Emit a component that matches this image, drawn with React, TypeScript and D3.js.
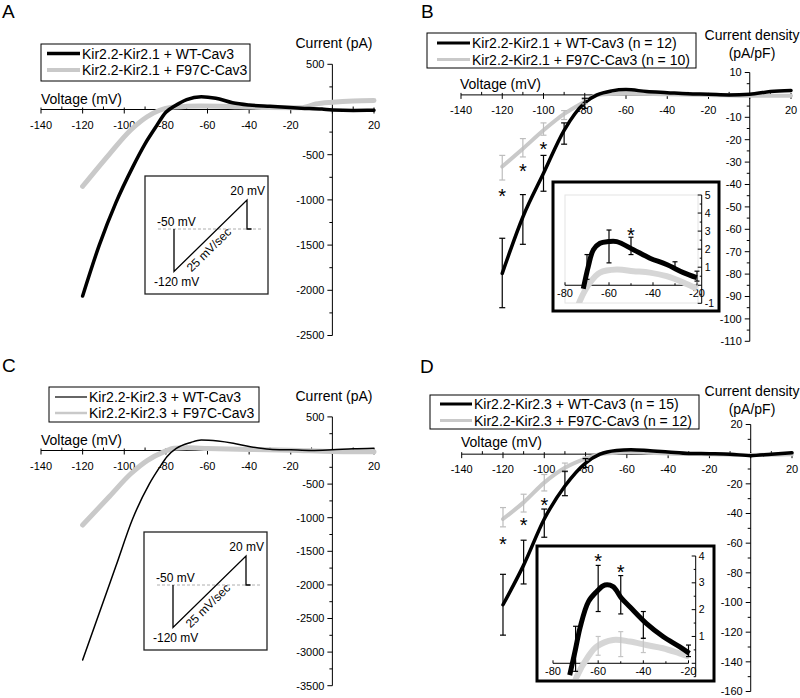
import React, { useEffect, useRef } from "react";
import * as d3 from "d3";

const FONT = "'Liberation Sans', Arial, Helvetica, sans-serif";
type Pt = [number, number];
const zip = (v: number[], i: number[]): Pt[] => v.map((d, k) => [d, i[k]]);

// x ticks shared by the four I-V plots (0 is left out, the y axis sits there)
const voltTicks = [-140, -120, -100, -80, -60, -40, -20, 20];
const insetTicks = [-80, -60, -40, -20];

// ---------- A : Kir2.2-Kir2.1 current (pA)
const aLegend = ["Kir2.2-Kir2.1 + WT-Cav3", "Kir2.2-Kir2.1 + F97C-Cav3"];
const aWtV = [-120, -112, -104, -96, -90, -85, -80, -76, -70, -63, -56, -48, -40, -30, -15, -5, 0, 10, 20];
const aWtI = [-2063, -1500, -1030, -640, -380, -200, -30, 35, 110, 142, 125, 75, 50, 35, 15, 5, -5, -10, -8];
const aMutV = [-120, -107, -97, -89, -83, -77, -70, -63, -45, -31, -15, -8, 0, 10, 20];
const aMutI = [-850, -490, -230, -80, -8, 25, 35, 38, 30, 22, 20, 60, 80, 95, 100];

// ---------- B : Kir2.2-Kir2.1 current density (pA/pF)
const bLegend = ["Kir2.2-Kir2.1 + WT-Cav3 (n = 12)", "Kir2.2-Kir2.1 + F97C-Cav3 (n = 10)"];
const bWtV = [-120, -110, -100, -90, -80, -74, -67, -60, -50, -40, -30, -20, -10, 0, 10, 20];
const bWtI = [-79.7, -54.5, -35, -15.8, -3.5, 0, 1.8, 2.4, 1.5, 1, 0.5, 0.3, 0, 0.3, 1.5, 2];
const bMutV = [-120, -110, -100, -90, -80, -74, -65, -60, -40, -20, 0, 20];
const bMutI = [-32, -24, -15.8, -8.5, -3, 0, 0.5, 0.6, 0.3, 0, -0.4, -0.4];
const bErrV = [-120, -110, -100, -90, -80];
const bWtHi = [-64, -44.5, -27, -12.5, -1.5];
const bWtLo = [-95, -66.7, -43, -22, -6];
const bMutHi = [-27, -19.5, -12.5, -7, -2];
const bMutLo = [-38, -27.7, -18, -11, -4];
const bStarV = [-120, -110, -100];
const bStarI = [-43.2, -32, -22.4];
// B inset (zoom on -80..-20 mV)
const bInWtV = [-71.7, -69.4, -67.1, -64.1, -60.3, -56.5, -48.9, -41.4, -33.8, -26.2, -20.1];
const bInWtI = [-0.2, 1.05, 1.97, 2.33, 2.42, 2.42, 1.97, 1.5, 1.15, 0.7, 0.42];
const bInMutV = [-75, -73.2, -68.6, -64.1, -56.5, -48.9, -41.4, -33.8, -26.2, -20];
const bInMutI = [-1.5, -0.86, 0.15, 0.7, 0.87, 0.78, 0.7, 0.5, 0.15, -0.2];
const bInErrV = [-70, -60, -50, -30, -20];
const bInErrHi = [1.7, 3.06, 2.66, 1.3, 0.78];
const bInErrLo = [0.33, 1.24, 1.7, 0.9, 0.23];
const bInStarV = [-50];
const bInStarI = [3.0];
const bInYLabels = [5, 4, 3, 2, 1, -1];

// ---------- C : Kir2.2-Kir2.3 current (pA)
const cLegend = ["Kir2.2-Kir2.3 + WT-Cav3", "Kir2.2-Kir2.3 + F97C-Cav3"];
const cWtV = [-120, -112, -104, -96, -88, -83, -79.5, -75, -68, -63, -55, -47.6, -39.4, -30, -20, -10, 0, 10, 20];
const cWtI = [-3118, -2420, -1720, -1020, -500, -250, -92, 30, 120, 156, 140, 107, 57, 20, 10, 0, 10, 25, 33];
const cMutV = [-120, -107, -97, -89, -81, -76, -70, -60, -40, -20, 0, 10, 20];
const cMutI = [-1109, -680, -350, -150, -20, 33, 40, 30, 15, 5, -15, -18, -18];

// ---------- D : Kir2.2-Kir2.3 current density (pA/pF)
const dLegend = ["Kir2.2-Kir2.3 + WT-Cav3 (n = 15)", "Kir2.2-Kir2.3 + F97C-Cav3 (n = 12)"];
const dWtV = [-120, -110, -100, -90, -80, -73, -65, -58, -50, -40, -30, -20, -10, 0, 10, 20];
const dWtI = [-101.5, -74.8, -43.7, -21.5, -6, 0, 2.5, 3, 2.5, 1.5, 0.5, 0.3, 0, -1, 0, 1];
const dMutV = [-120, -110, -100, -90, -80, -73, -65, -58, -50, -40, -20, 0, 20];
const dMutI = [-43.7, -32.5, -19.2, -9.2, -3, 0, 1, 1.5, 1, 0.5, 0, -0.5, 0];
const dErrV = [-120, -110, -100, -90, -80];
const dWtHi = [-81, -58, -37, -11.5, -3];
const dWtLo = [-122, -87.5, -56, -28, -9];
const dMutHi = [-36, -27, -13.7, -6, -2];
const dMutLo = [-49, -39, -24.8, -12, -4];
const dStarV = [-120, -110, -100];
const dStarI = [-58.1, -44.8, -31.5];
// D inset
const dInWtV = [-72.6, -70.1, -67.9, -64.3, -60.7, -57, -53.4, -49.7, -46, -38.7, -31.3, -24, -19.6];
const dInWtI = [-0.44, 0.5, 1.37, 2.3, 2.67, 2.92, 2.86, 2.43, 2.11, 1.49, 1.0, 0.62, 0.37];
const dInMutV = [-71, -69.5, -64.4, -60.7, -53.4, -46, -38.7, -31.3, -24, -19.6];
const dInMutI = [-0.9, -0.5, 0.25, 0.62, 0.87, 0.81, 0.68, 0.56, 0.37, 0.25];
const dInErrV = [-70, -60, -50, -40, -20];
const dInErrHi = [1.38, 3.65, 3.27, 1.93, 0.68];
const dInErrLo = [-0.3, 1.93, 1.84, 0.93, 0.25];
const dInMutErrV = [-60, -50, -40];
const dInMutErrHi = [1.0, 1.18, 0.95];
const dInMutErrLo = [0.3, 0.25, 0.4];
const dInStarV = [-60, -50];
const dInStarI = [3.98, 3.54];
const dInYLabels = [4, 3, 2, 1];

// voltage protocol (time in s, mV) shown in A and C insets
const protoT = [0, 0, 5.6, 5.6, 5.95];
const protoV = [-50, -120, 20, -50, -50];

type G = d3.Selection<SVGGElement, unknown, null, undefined>;

interface PanelSpec {
  letter: string;
  letterPos: Pt;
  xRange: Pt;
  yDomain: Pt;
  yRange: Pt;
  yStep: number;
  title: string[];
  titlePos: Pt;
  voltPos: Pt;
  legendBox: [number, number, number, number];
  legendRows: Pt;
  legendLine: Pt;
  legendText: string[];
  legendWidths: Pt;
  wt: Pt[];
  mut: Pt[];
  wtWidth: number;
  mutWidth: number;
}

const GREY = "#c9c9c9";
const LIGHT = "#d6d6d6";

const curve = d3.line<Pt>().curve(d3.curveMonotoneX);

function drawPanel(root: G, p: PanelSpec) {
  const g = root.append("g");
  const x = d3.scaleLinear().domain([-140, 20]).range(p.xRange);
  const y = d3.scaleLinear().domain(p.yDomain).range(p.yRange);
  const x0 = x(0),
    y0 = y(0);

  g.append("text")
    .attr("x", p.letterPos[0])
    .attr("y", p.letterPos[1])
    .attr("font-size", 19)
    .text(p.letter);

  // y title
  p.title.forEach((t, i) =>
    g
      .append("text")
      .attr("x", p.titlePos[0])
      .attr("y", p.titlePos[1] + i * 18)
      .attr("text-anchor", "middle")
      .attr("font-size", 14)
      .text(t),
  );

  // y axis
  g.append("line")
    .attr("x1", x0)
    .attr("x2", x0)
    .attr("y1", y(p.yDomain[0]))
    .attr("y2", y(p.yDomain[1]))
    .attr("stroke", "#000");
  const half = p.yStep / 2;
  const n = Math.round((p.yDomain[1] - p.yDomain[0]) / half);
  for (let k = 0; k <= n; k++) {
    const v = p.yDomain[0] + k * half;
    const major = k % 2 === 0;
    g.append("line")
      .attr("x1", x0 - (major ? 5 : 3))
      .attr("x2", x0)
      .attr("y1", y(v))
      .attr("y2", y(v))
      .attr("stroke", "#000");
    if (major && v !== 0)
      g.append("text")
        .attr("x", x0 - 8)
        .attr("y", y(v))
        .attr("dy", "0.35em")
        .attr("text-anchor", "end")
        .attr("font-size", 11)
        .text(v);
  }

  // x axis
  g.append("line")
    .attr("x1", x(-140))
    .attr("x2", x(20))
    .attr("y1", y0)
    .attr("y2", y0)
    .attr("stroke", "#000");
  d3.range(-140, 21, 10).forEach((v) => {
    const major = v % 20 === 0;
    g.append("line")
      .attr("x1", x(v))
      .attr("x2", x(v))
      .attr("y1", y0 - (major ? 2 : 3))
      .attr("y2", y0 + (major ? 4 : 0))
      .attr("stroke", "#000");
  });
  voltTicks.forEach((v) =>
    g
      .append("text")
      .attr("x", x(v))
      .attr("y", y0 + 19)
      .attr("text-anchor", "middle")
      .attr("font-size", 11)
      .text(v),
  );
  g.append("text")
    .attr("x", p.voltPos[0])
    .attr("y", p.voltPos[1])
    .attr("font-size", 14)
    .text("Voltage (mV)");

  // legend
  const [lx0, ly0, lx1, ly1] = p.legendBox;
  g.append("rect")
    .attr("x", lx0)
    .attr("y", ly0)
    .attr("width", lx1 - lx0)
    .attr("height", ly1 - ly0)
    .attr("fill", "#fff")
    .attr("stroke", "#000");
  [0, 1].forEach((i) => {
    g.append("line")
      .attr("x1", p.legendLine[0])
      .attr("x2", p.legendLine[1])
      .attr("y1", p.legendRows[i])
      .attr("y2", p.legendRows[i])
      .attr("stroke", i === 0 ? "#000" : GREY)
      .attr("stroke-width", p.legendWidths[i]);
    g.append("text")
      .attr("x", p.legendLine[1] + 2)
      .attr("y", p.legendRows[i])
      .attr("dy", "0.36em")
      .attr("font-size", 14)
      .text(p.legendText[i]);
  });

  // traces
  curve.x((d) => x(d[0])).y((d) => y(d[1]));
  g.append("path")
    .attr("d", curve(p.mut))
    .attr("fill", "none")
    .attr("stroke", GREY)
    .attr("stroke-width", p.mutWidth)
    .attr("stroke-linecap", "round");
  g.append("path")
    .attr("d", curve(p.wt))
    .attr("fill", "none")
    .attr("stroke", "#000")
    .attr("stroke-width", p.wtWidth)
    .attr("stroke-linecap", "round");

  return { g, x, y };
}

function errorBars(
  g: G,
  x: d3.ScaleLinear<number, number>,
  y: d3.ScaleLinear<number, number>,
  vs: number[],
  hi: number[],
  lo: number[],
  color: string,
  cap: number,
) {
  vs.forEach((v, i) => {
    const cx = x(v);
    g.append("line").attr("x1", cx).attr("x2", cx).attr("y1", y(hi[i])).attr("y2", y(lo[i])).attr("stroke", color).attr("stroke-width", 1.2);
    [hi[i], lo[i]].forEach((e) =>
      g.append("line").attr("x1", cx - cap).attr("x2", cx + cap).attr("y1", y(e)).attr("y2", y(e)).attr("stroke", color).attr("stroke-width", 1.2),
    );
  });
}

function stars(
  g: G,
  x: d3.ScaleLinear<number, number>,
  y: d3.ScaleLinear<number, number>,
  vs: number[],
  is: number[],
) {
  vs.forEach((v, i) =>
    g
      .append("text")
      .attr("x", x(v))
      .attr("y", y(is[i]) + 11)
      .attr("text-anchor", "middle")
      .attr("font-size", 20)
      .text("*"),
  );
}

interface InsetSpec {
  id: string;
  box: [number, number, number, number];
  inner?: [number, number, number, number];
  xRange: Pt;
  yDomain: Pt;
  yRange: Pt;
  axisX: number;
  yLabels: number[];
  wt: Pt[];
  mut: Pt[];
}

function drawInset(root: G, s: InsetSpec) {
  const g = root.append("g");
  const [bx0, by0, bx1, by1] = s.box;
  const x = d3.scaleLinear().domain([-80, -20]).range(s.xRange);
  const y = d3.scaleLinear().domain(s.yDomain).range(s.yRange);
  g.append("rect")
    .attr("x", bx0)
    .attr("y", by0)
    .attr("width", bx1 - bx0)
    .attr("height", by1 - by0)
    .attr("fill", "#fff")
    .attr("stroke", "#000")
    .attr("stroke-width", 3);
  if (s.inner) {
    const [ix0, iy0, ix1, iy1] = s.inner;
    g.append("rect")
      .attr("x", ix0)
      .attr("y", iy0)
      .attr("width", ix1 - ix0)
      .attr("height", iy1 - iy0)
      .attr("fill", "none")
      .attr("stroke", "#e4e4e4");
  }
  const clip = s.inner ?? [bx0 + 2, by0 + 2, bx1 - 2, by1 - 2];
  g.append("clipPath")
    .attr("id", s.id)
    .append("rect")
    .attr("x", clip[0])
    .attr("y", clip[1])
    .attr("width", clip[2] - clip[0])
    .attr("height", clip[3] - clip[1]);

  const y0 = y(0);
  // x axis
  g.append("line").attr("x1", x(-80)).attr("x2", x(-20)).attr("y1", y0).attr("y2", y0).attr("stroke", "#000");
  d3.range(-80, -19, 10).forEach((v) =>
    g.append("line").attr("x1", x(v)).attr("x2", x(v)).attr("y1", y0 - (v % 20 === 0 ? 3 : 2)).attr("y2", y0).attr("stroke", "#000"),
  );
  insetTicks.forEach((v) =>
    g.append("text").attr("x", x(v)).attr("y", y0 + 12).attr("text-anchor", "middle").attr("font-size", 11).text(v),
  );
  // y axis on the right
  g.append("line").attr("x1", s.axisX).attr("x2", s.axisX).attr("y1", y(s.yDomain[0])).attr("y2", y(s.yDomain[1])).attr("stroke", "#000");
  d3.range(s.yDomain[0], s.yDomain[1] + 0.01, 0.5).forEach((v) =>
    g.append("line")
      .attr("x1", s.axisX - (Number.isInteger(v) ? 4 : 2))
      .attr("x2", s.axisX)
      .attr("y1", y(v))
      .attr("y2", y(v))
      .attr("stroke", "#000"),
  );
  s.yLabels.forEach((v) =>
    g.append("text").attr("x", s.axisX + 3).attr("y", y(v)).attr("dy", "0.35em").attr("font-size", 10.5).text(v),
  );

  const line = d3
    .line<Pt>()
    .curve(d3.curveCatmullRom.alpha(0.5))
    .x((d) => x(d[0]))
    .y((d) => y(d[1]));
  const traces = g.append("g").attr("clip-path", `url(#${s.id})`);
  traces.append("path").attr("d", line(s.mut)).attr("fill", "none").attr("stroke", LIGHT).attr("stroke-width", 6);
  traces.append("path").attr("d", line(s.wt)).attr("fill", "none").attr("stroke", "#000").attr("stroke-width", 5);
  return { g, x, y };
}

function drawProtocol(root: G, bx: number, by: number) {
  const g = root.append("g");
  const w = 123,
    h = 118;
  g.append("rect").attr("x", bx).attr("y", by).attr("width", w).attr("height", h).attr("fill", "#fff").attr("stroke", "#222").attr("stroke-width", 1.3);
  const t = d3.scaleLinear().domain([0, 5.6]).range([bx + 29, bx + 102]);
  const v = d3.scaleLinear().domain([-120, -50, 20]).range([by + 95.5, by + 53, by + 24]);
  g.append("line")
    .attr("x1", bx + 13)
    .attr("x2", bx + w - 5)
    .attr("y1", v(-50))
    .attr("y2", v(-50))
    .attr("stroke", "#999")
    .attr("stroke-width", 0.8)
    .attr("stroke-dasharray", "3,2");
  const line = d3
    .line<Pt>()
    .x((d) => t(d[0]))
    .y((d) => v(d[1]));
  g.append("path").attr("d", line(zip(protoT, protoV))).attr("fill", "none").attr("stroke", "#000").attr("stroke-width", 1.3);
  g.append("text").attr("x", bx + w - 3).attr("y", v(20) - 5).attr("text-anchor", "end").attr("font-size", 12).text("20 mV");
  g.append("text").attr("x", bx + 12).attr("y", v(-50) - 3).attr("font-size", 12).text("-50 mV");
  g.append("text").attr("x", bx + 9).attr("y", v(-120) + 14).attr("font-size", 12).text("-120 mV");
  const mx = (t(0) + t(5.6)) / 2,
    my = (v(-120) + v(20)) / 2;
  const ang = (Math.atan2(v(20) - v(-120), t(5.6) - t(0)) * 180) / Math.PI;
  g.append("text")
    .attr("transform", `translate(${mx},${my}) rotate(${ang})`)
    .attr("x", -11)
    .attr("y", 13)
    .attr("text-anchor", "middle")
    .attr("font-size", 12)
    .text("25 mV/sec");
}

const App: React.FC = () => {
  const ref = useRef<SVGSVGElement>(null);

  useEffect(() => {
    const svg = d3.select(ref.current);
    svg.selectAll("*").remove();
    const root = svg.append("g") as unknown as G;

    // ---- A
    drawPanel(root, {
      letter: "A",
      letterPos: [2, 18],
      xRange: [41, 374],
      yDomain: [-2500, 500],
      yRange: [335.5, 64.3],
      yStep: 500,
      title: ["Current (pA)"],
      titlePos: [334, 48],
      voltPos: [41, 104],
      legendBox: [41, 44, 250, 81],
      legendRows: [53.5, 70],
      legendLine: [47, 80],
      legendText: aLegend,
      legendWidths: [3.5, 4],
      wt: zip(aWtV, aWtI),
      mut: zip(aMutV, aMutI),
      wtWidth: 3.5,
      mutWidth: 5,
    });
    drawProtocol(root, 145, 176);

    // ---- B
    const b = drawPanel(root, {
      letter: "B",
      letterPos: [421, 18],
      xRange: [461, 791],
      yDomain: [-110, 10],
      yRange: [341.3, 72.5],
      yStep: 10,
      title: ["Current density", "(pA/pF)"],
      titlePos: [752, 40],
      voltPos: [460, 89],
      legendBox: [427, 33, 696, 68],
      legendRows: [43, 59.5],
      legendLine: [437, 470],
      legendText: bLegend,
      legendWidths: [3, 3],
      wt: zip(bWtV, bWtI),
      mut: zip(bMutV, bMutI),
      wtWidth: 3.5,
      mutWidth: 4,
    });
    errorBars(b.g, b.x, b.y, bErrV, bMutHi, bMutLo, "#bdbdbd", 3);
    errorBars(b.g, b.x, b.y, bErrV, bWtHi, bWtLo, "#000", 3);
    stars(b.g, b.x, b.y, bStarV, bStarI);
    const bi = drawInset(root, {
      id: "clipB",
      box: [553, 182, 719, 311],
      inner: [565, 195, 698, 303],
      xRange: [565, 697],
      yDomain: [-1, 5],
      yRange: [303.3, 195],
      axisX: 701.7,
      yLabels: bInYLabels,
      wt: zip(bInWtV, bInWtI),
      mut: zip(bInMutV, bInMutI),
    });
    errorBars(bi.g, bi.x, bi.y, bInErrV, bInErrHi, bInErrLo, "#000", 2.5);
    stars(bi.g, bi.x, bi.y, bInStarV, bInStarI);

    // ---- C
    drawPanel(root, {
      letter: "C",
      letterPos: [2, 372],
      xRange: [41, 374],
      yDomain: [-3500, 500],
      yRange: [685.7, 416.9],
      yStep: 500,
      title: ["Current (pA)"],
      titlePos: [334, 401],
      voltPos: [41, 445],
      legendBox: [49, 387, 259, 422],
      legendRows: [397, 413],
      legendLine: [55, 87],
      legendText: cLegend,
      legendWidths: [1.2, 2.5],
      wt: zip(cWtV, cWtI),
      mut: zip(cMutV, cMutI),
      wtWidth: 1.5,
      mutWidth: 5,
    });
    drawProtocol(root, 144, 532);

    // ---- D
    const d = drawPanel(root, {
      letter: "D",
      letterPos: [420, 373],
      xRange: [461.7, 792],
      yDomain: [-160, 20],
      yRange: [691.5, 424.5],
      yStep: 20,
      title: ["Current density", "(pA/pF)"],
      titlePos: [752, 396],
      voltPos: [461, 447],
      legendBox: [430, 395, 699, 429],
      legendRows: [404, 420.5],
      legendLine: [440, 472],
      legendText: dLegend,
      legendWidths: [3, 3],
      wt: zip(dWtV, dWtI),
      mut: zip(dMutV, dMutI),
      wtWidth: 3.5,
      mutWidth: 4,
    });
    errorBars(d.g, d.x, d.y, dErrV, dMutHi, dMutLo, "#bdbdbd", 3);
    errorBars(d.g, d.x, d.y, dErrV, dWtHi, dWtLo, "#000", 3);
    stars(d.g, d.x, d.y, dStarV, dStarI);
    const di = drawInset(root, {
      id: "clipD",
      box: [537, 546, 714, 681],
      xRange: [553, 688.5],
      yDomain: [-0.5, 4],
      yRange: [676.7, 556],
      axisX: 695.7,
      yLabels: dInYLabels,
      wt: zip(dInWtV, dInWtI),
      mut: zip(dInMutV, dInMutI),
    });
    errorBars(di.g, di.x, di.y, dInMutErrV, dInMutErrHi, dInMutErrLo, "#c4c4c4", 2.5);
    errorBars(di.g, di.x, di.y, dInErrV, dInErrHi, dInErrLo, "#000", 2.5);
    stars(di.g, di.x, di.y, dInStarV, dInStarI);
  }, []);

  return (
    <svg
      ref={ref}
      width={800}
      height={698}
      fontFamily={FONT}
      style={{ position: "absolute", left: 0, top: 0, background: "#fff" }}
    />
  );
};

export default App;
